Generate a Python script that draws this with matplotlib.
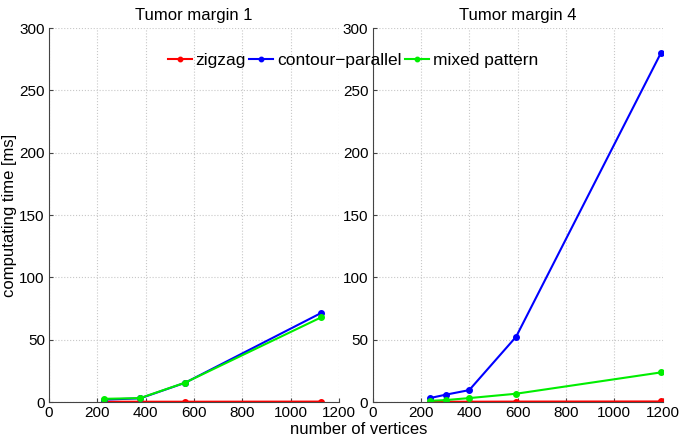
import numpy as np
import matplotlib.pyplot as plt

plt.rcParams['font.family'] = ['Liberation Sans', 'DejaVu Sans']

# Tumor margin 1
x1 = [228, 377, 563, 1126]
zigzag1 = [0.3, 0.3, 0.3, 0.4]
contour1 = [2.0, 3.0, 15.5, 71.5]
mixed1 = [2.6, 3.2, 15.6, 68.0]

# Tumor margin 4
x4 = [237, 302, 400, 594, 1193]
zigzag4 = [0.3, 0.3, 0.3, 0.4, 0.5]
contour4 = [3.2, 5.9, 9.6, 52.4, 280.0]
mixed4 = [1.0, 1.6, 3.2, 6.7, 23.8]

labels = ['zigzag', 'contour\u2212parallel', 'mixed pattern']
colors = ['#ff0000', '#0000ff', '#00ee00']
titles = ['Tumor margin 1', 'Tumor margin 4']

fig = plt.figure(figsize=(6.81, 4.38), dpi=100)
ax1 = fig.add_axes([0.072, 0.082, 0.426, 0.854])
ax2 = fig.add_axes([0.547, 0.082, 0.426, 0.854])

data = [(x1, [zigzag1, contour1, mixed1]), (x4, [zigzag4, contour4, mixed4])]
handles = []
for ax, (x, series), title in zip([ax1, ax2], data, titles):
    hs = []
    for y, c, lab in zip(series, colors, labels):
        h, = ax.plot(x, y, '-o', color=c, lw=1.5, ms=4, label=lab)
        hs.append(h)
    handles = hs
    ax.set_xlim(0, 1200)
    ax.set_ylim(0, 300)
    ax.set_xticks(np.arange(0, 1201, 200))
    ax.set_yticks(np.arange(0, 301, 50))
    ax.grid(True, linestyle=':', color='#c8c8c8', lw=0.8)
    ax.set_axisbelow(True)
    ax.spines['top'].set_visible(False)
    ax.spines['right'].set_visible(False)
    ax.spines['left'].set_color('#444444')
    ax.spines['bottom'].set_color('#444444')
    ax.tick_params(direction='in', labelsize=11, length=3, color='#444444', pad=3)
    ax.set_title(title, fontsize=12, pad=6)

ax1.set_ylabel('computating time [ms]', fontsize=12, labelpad=2)
fig.text(0.527, 0.002, 'number of vertices', ha='center', va='bottom', fontsize=12)

fig.legend(handles, labels, loc='center', bbox_to_anchor=(0.518, 0.862), ncol=3,
           frameon=False, fontsize=12.5, handlelength=1.4, handletextpad=0.2,
           columnspacing=0.2, markerscale=0.8)

fig.savefig('out.png', dpi=100)
